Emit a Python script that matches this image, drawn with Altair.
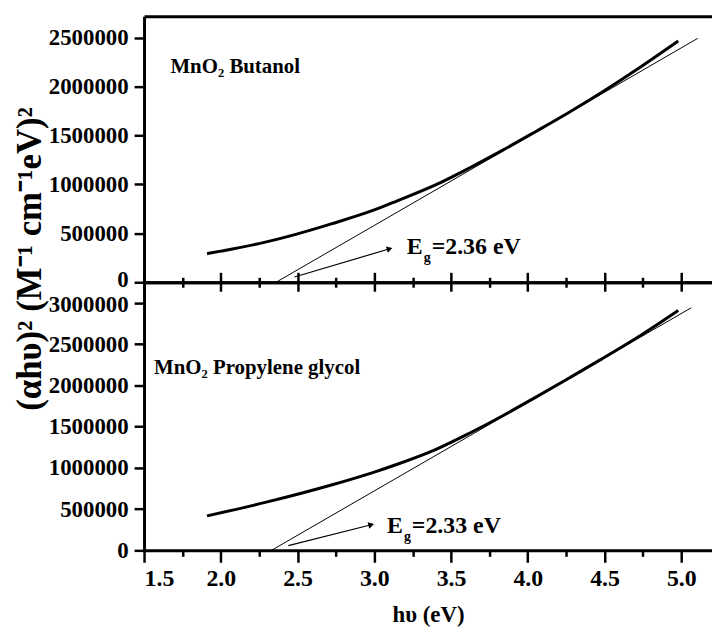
import math
import altair as alt
import pandas as pd

# ---------------- data ----------------
hv_butanol = [1.91, 2.00, 2.29, 2.50, 2.72, 3.00, 3.15, 3.41, 3.62, 3.84, 4.05, 4.27, 4.48, 4.70, 4.98]
ahv2_butanol = [292000, 318000, 410000, 495000, 597000, 739000, 833000, 1003000, 1168000,
                1353000, 1539000, 1738000, 1939000, 2164000, 2466000]
fit_butanol_hv = [2.36, 5.107]
fit_butanol_y = [0, 2493000]
arrow_butanol_hv = [2.48, 3.10]
arrow_butanol_y = [54000, 342000]

hv_pg = [1.91, 2.29, 2.72, 3.00, 3.15, 3.41, 3.62, 3.84, 4.05, 4.27, 4.48, 4.70, 4.98]
ahv2_pg = [418000, 581000, 792000, 949000, 1044000, 1231000, 1420000, 1635000, 1855000,
           2090000, 2318000, 2565000, 2909000]
fit_pg_hv = [2.33, 5.064]
fit_pg_y = [0, 2940000]
arrow_pg_hv = [2.44, 2.98]
arrow_pg_y = [57000, 310000]

sample_labels = ["MnO\u2082 Butanol", "MnO\u2082 Propylene glycol"]
sample_label_hv = [1.672, 1.565]
sample_label_y = [2137000, 2137000]

eg_texts = ["=2.36 eV", "=2.33 eV"]
eg_hv = [3.212, 3.083]
eg_y = [290000, 213000]

x_domain = [1.5, 5.2]
y_domains = [[0, 2720000], [0, 3250000]]
x_ticks = [1.5 + 0.25 * i for i in range(15)]
y_ticks_top = [250000 * i for i in range(11)]
y_ticks_bottom = [250000 * i for i in range(13)]

# ---------------- styling ----------------
FONT = "Liberation Serif"
W = 572
H_TOP = 268
H_BOT = 270

x_major_test = "abs(datum.value*2 - round(datum.value*2)) < 0.001"
y_major_test = "datum.value % 500000 === 0"


def y_axis(values, title=None, offset_test=None, offset_value=0):
    kw = dict(
        values=values,
        labelExpr=f"{y_major_test} ? format(datum.value, 'd') : ''",
        tickSize={"condition": {"test": y_major_test, "value": 10}, "value": 5},
        tickWidth=2.5, domainWidth=3, labelFontSize=23, labelPadding=6,
        grid=False,
    )
    if offset_test:
        kw["labelOffset"] = {"condition": {"test": offset_test, "value": offset_value}, "value": 0}
    if title:
        kw.update(title=title, titleFontSize=35, titleAngle=270,
                  titleBaseline="alphabetic", titleAlign="center",
                  titleX=-104, titleY=244)
    else:
        kw.update(title=None)
    return alt.Axis(**kw)


def panel(hv, ahv2, fhv, fy, ahv, ay, label, lab_hv, lab_y, eg, e_hv, e_y,
          ydom, yvals, height, is_bottom, ytitle=None):
    xs = alt.Scale(domain=x_domain, nice=False, zero=False)
    ys = alt.Scale(domain=ydom, nice=False, zero=False)

    if is_bottom:
        main_x_axis = alt.Axis(
            orient="bottom", values=x_ticks,
            labelExpr=f"{x_major_test} ? format(datum.value, '.1f') : ''",
            tickSize={"condition": {"test": x_major_test, "value": 12}, "value": 6},
            tickWidth=2.5, domainWidth=3, labelFontSize=24, labelPadding=4,
            title="h\u03c5 (eV)", titleFontSize=23, titlePadding=14, grid=False)
        second_x_axis = alt.Axis(
            orient="top", values=x_ticks, labels=False,
            tickSize={"condition": {"test": x_major_test, "value": 10}, "value": 5},
            tickWidth=2.5, domainWidth=3, title=None, grid=False)
        yax = y_axis(yvals, ytitle, "datum.value === 3000000", 2)
    else:
        main_x_axis = alt.Axis(
            orient="bottom", values=x_ticks, labels=False,
            tickSize={"condition": {"test": x_major_test, "value": 9}, "value": 5},
            tickWidth=2.5, domainWidth=3, title=None, grid=False)
        second_x_axis = alt.Axis(
            orient="top", ticks=False, labels=False, domainWidth=3,
            title=None, grid=False)
        yax = y_axis(yvals, ytitle, "datum.value === 0", -3)

    curve_df = pd.DataFrame({"hv": hv, "v": ahv2})
    fit_df = pd.DataFrame({"hv": fhv, "v": fy})
    arrow_df = pd.DataFrame({"hv": ahv, "v": ay})

    curve = alt.Chart(curve_df).mark_line(
        color="black", strokeWidth=3, interpolate="monotone"
    ).encode(
        x=alt.X("hv:Q", scale=xs, axis=main_x_axis),
        y=alt.Y("v:Q", scale=ys, axis=yax),
    )
    fit = alt.Chart(fit_df).mark_line(color="black", strokeWidth=1).encode(
        x=alt.X("hv:Q", scale=xs, axis=second_x_axis),
        y=alt.Y("v:Q", scale=ys),
    )
    arrow_line = alt.Chart(arrow_df).mark_line(color="black", strokeWidth=1.2).encode(
        x=alt.X("hv:Q", scale=xs, axis=None),
        y=alt.Y("v:Q", scale=ys),
    )
    # arrow head direction in screen space
    px_per_x = W / (x_domain[1] - x_domain[0])
    px_per_y = height / (ydom[1] - ydom[0])
    dxp = (ahv[1] - ahv[0]) * px_per_x
    dyp = -(ay[1] - ay[0]) * px_per_y
    ang = (math.degrees(math.atan2(dyp, dxp)) + 360) % 360
    head = alt.Chart(arrow_df.iloc[[1]]).mark_point(
        shape="triangle-right", filled=True, color="black", size=45,
        angle=ang, opacity=1
    ).encode(
        x=alt.X("hv:Q", scale=xs, axis=None),
        y=alt.Y("v:Q", scale=ys),
    )

    lab_df = pd.DataFrame({"hv": [lab_hv], "v": [lab_y], "t": [label]})
    lab = alt.Chart(lab_df).mark_text(
        font=FONT, fontWeight="bold", fontSize=21, align="left",
        baseline="alphabetic", color="black"
    ).encode(
        x=alt.X("hv:Q", scale=xs, axis=None),
        y=alt.Y("v:Q", scale=ys),
        text="t:N",
    )

    eg_df = pd.DataFrame({"hv": [e_hv], "v": [e_y], "t": [eg], "E": ["E"], "g": ["g"]})
    base_eg = alt.Chart(eg_df).encode(
        x=alt.X("hv:Q", scale=xs, axis=None),
        y=alt.Y("v:Q", scale=ys),
    )
    e_mark = base_eg.mark_text(font=FONT, fontWeight="bold", fontSize=24, align="left",
                               baseline="alphabetic", color="black").encode(text="E:N")
    g_mark = base_eg.mark_text(font=FONT, fontWeight="bold", fontSize=14, align="left",
                               baseline="alphabetic", color="black", dx=17, dy=8).encode(text="g:N")
    rest_mark = base_eg.mark_text(font=FONT, fontWeight="bold", fontSize=24, align="left",
                                  baseline="alphabetic", color="black", dx=25).encode(text="t:N")

    return alt.layer(
        curve, fit, arrow_line, head, lab, e_mark, g_mark, rest_mark
    ).resolve_axis(x="independent").properties(width=W, height=height)


top = panel(hv_butanol, ahv2_butanol, fit_butanol_hv, fit_butanol_y,
            arrow_butanol_hv, arrow_butanol_y, sample_labels[0],
            sample_label_hv[0], sample_label_y[0], eg_texts[0], eg_hv[0], eg_y[0],
            y_domains[0], y_ticks_top, H_TOP, False,
            ytitle="(\u03b1h\u03c5)\u00b2 (M\u207b\u00b9 cm\u207b\u00b9eV)\u00b2")
bottom = panel(hv_pg, ahv2_pg, fit_pg_hv, fit_pg_y,
               arrow_pg_hv, arrow_pg_y, sample_labels[1],
               sample_label_hv[1], sample_label_y[1], eg_texts[1], eg_hv[1], eg_y[1],
               y_domains[1], y_ticks_bottom, H_BOT, True)

chart = alt.vconcat(top, bottom, spacing=0, bounds="flush").properties(
    padding={"left": 5, "top": 6, "right": 0, "bottom": 0},
    background="white",
).configure_view(stroke=None).configure_axis(
    labelFont=FONT, labelFontWeight="bold", labelColor="black",
    titleFont=FONT, titleFontWeight="bold", titleColor="black",
    domainColor="black", tickColor="black",
)

chart.save("out.html", embed_options={"renderer": "svg", "actions": False})
